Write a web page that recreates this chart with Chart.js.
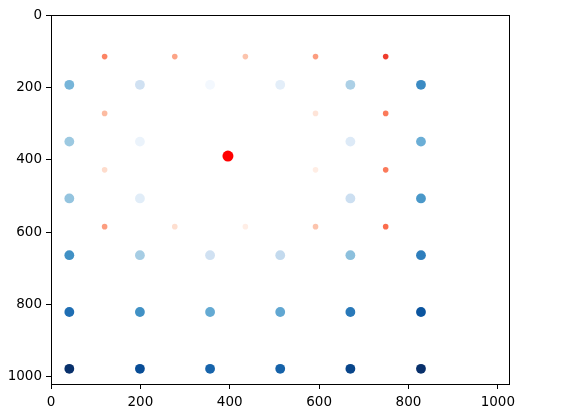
<!DOCTYPE html>
<html>
<head>
<meta charset="utf-8">
<script src="https://cdn.jsdelivr.net/npm/chart.js@4/dist/chart.umd.min.js"></script>
<style>
  html, body { margin: 0; padding: 0; background: #fff; }
  #wrap { width: 566px; height: 418px; }
</style>
</head>
<body>
<div id="wrap"><canvas id="gridChart"></canvas></div>
<script>
// Blue grid: column / row positions and shade (0..1 on Blues), row by row
// null = no visible marker at that spot
const blueX = [41, 199, 356, 513, 670, 828];
const blueY = [193, 350, 507, 664, 821, 978];
const blueShade = [
  [0.47, 0.20, 0.02, 0.10, 0.33, 0.65],
  [0.38, 0.06, null, null, 0.13, 0.50],
  [0.40, 0.11, null, null, 0.22, 0.60],
  [0.63, 0.35, 0.20, 0.26, 0.42, 0.70],
  [0.76, 0.63, 0.52, 0.53, 0.72, 0.86],
  [1.00, 0.89, 0.80, 0.81, 0.92, 1.00]
];

// Orange grid: positions and shade (0..1 on Reds)
const redX = [120, 277, 435, 592, 749];
const redY = [115, 272, 428, 585];
const redShade = [
  [0.42, 0.32, 0.22, 0.34, 0.62],
  [0.25, null, null, 0.10, 0.45],
  [0.14, null, null, 0.05, 0.45],
  [0.34, 0.13, 0.04, 0.22, 0.49]
];

// Single red marker
const centerX = [396];
const centerY = [390];

const xTicks = [0, 200, 400, 600, 800, 1000];
const yTicks = [0, 200, 400, 600, 800, 1000];

// colormap stops (matplotlib Blues / Reds)
const bluesMap = ['#f7fbff', '#deebf7', '#c6dbef', '#9ecae1', '#6baed6', '#4292c6', '#2171b5', '#08519c', '#08306b'];
const redsMap = ['#fff5f0', '#fee0d2', '#fcbba1', '#fc9272', '#fb6a4a', '#ef3b2c', '#cb181d', '#a50f15', '#67000d'];

function hexRgb(h) {
  return [parseInt(h.slice(1, 3), 16), parseInt(h.slice(3, 5), 16), parseInt(h.slice(5, 7), 16)];
}
function cmap(stops, t) {
  const p = Math.max(0, Math.min(1, t)) * (stops.length - 1);
  const i = Math.min(Math.floor(p), stops.length - 2);
  const f = p - i;
  const a = hexRgb(stops[i]), b = hexRgb(stops[i + 1]);
  const c = a.map((v, k) => Math.round(v + (b[k] - v) * f));
  return 'rgb(' + c.join(',') + ')';
}

const bluePts = [], blueCols = [];
blueY.forEach((y, r) => blueX.forEach((x, c) => {
  if (blueShade[r][c] === null) return;
  bluePts.push({ x: x, y: y });
  blueCols.push(cmap(bluesMap, blueShade[r][c]));
}));

const redPts = [], redCols = [];
redY.forEach((y, r) => redX.forEach((x, c) => {
  if (redShade[r][c] === null) return;
  redPts.push({ x: x, y: y });
  redCols.push(cmap(redsMap, redShade[r][c]));
}));

const centerPts = centerX.map((x, i) => ({ x: x, y: centerY[i] }));

// box around the plot area (matplotlib spines)
const frame = {
  id: 'frame',
  afterDraw(chart) {
    const a = chart.chartArea, ctx = chart.ctx;
    ctx.save();
    ctx.strokeStyle = '#000';
    ctx.lineWidth = 1;
    ctx.strokeRect(Math.round(a.left) + 0.5, Math.round(a.top) + 0.5,
      Math.round(a.right - a.left), Math.round(a.bottom - a.top));
    ctx.restore();
  }
};

const tickFont = { family: 'DejaVu Sans', size: 13.5 };

new Chart(document.getElementById('gridChart').getContext('2d'), {
  type: 'scatter',
  data: {
    datasets: [
      { label: 'center', data: centerPts, backgroundColor: '#ff0000', pointRadius: 5.5, borderWidth: 0, order: 0 },
      { label: 'red', data: redPts, backgroundColor: redCols, pointRadius: 2.8, borderWidth: 0, order: 1 },
      { label: 'blue', data: bluePts, backgroundColor: blueCols, pointRadius: 4.9, borderWidth: 0, order: 2 }
    ]
  },
  options: {
    responsive: true,
    maintainAspectRatio: false,
    animation: false,
    events: [],
    layout: { padding: { left: 0, top: 15, right: 57, bottom: 0 } },
    plugins: { legend: { display: false }, tooltip: { enabled: false } },
    scales: {
      x: {
        type: 'linear',
        min: 0,
        max: 1025,
        afterBuildTicks: s => { s.ticks = xTicks.map(v => ({ value: v })); },
        afterFit: s => { s.height = 34; },
        grid: { drawOnChartArea: false, drawTicks: true, tickLength: 5, color: '#000' },
        border: { display: true, color: '#000' },
        ticks: { color: '#000', font: tickFont, padding: 5, maxRotation: 0, callback: v => String(v) }
      },
      y: {
        type: 'linear',
        reverse: true,
        min: 0,
        max: 1020,
        afterBuildTicks: s => { s.ticks = yTicks.map(v => ({ value: v })); },
        afterFit: s => { s.width = 51; },
        grid: { drawOnChartArea: false, drawTicks: true, tickLength: 5, color: '#000' },
        border: { display: true, color: '#000' },
        ticks: { color: '#000', font: tickFont, padding: 4, callback: v => String(v) }
      }
    }
  },
  plugins: [frame]
});
</script>
</body>
</html>
